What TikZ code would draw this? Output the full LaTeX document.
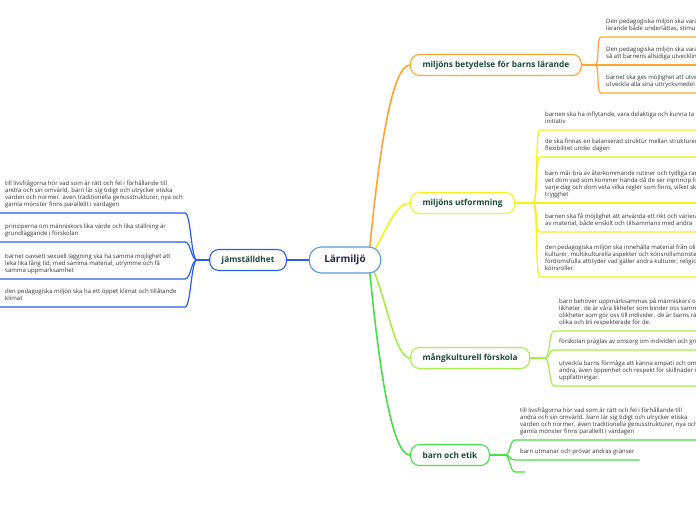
\documentclass[tikz,border=0pt]{standalone}
\usepackage{fontspec}
\setmainfont{Open Sans}
\usetikzlibrary{backgrounds,calc}
\definecolor{cblue}{HTML}{2A5EEA}
\definecolor{cblueL}{HTML}{5B9BD9}
\definecolor{corange}{HTML}{FFA42E}
\definecolor{cyellow}{HTML}{F2F21C}
\definecolor{clime}{HTML}{A6EE48}
\definecolor{cgreen}{HTML}{46E046}
\definecolor{nodetext}{HTML}{1B4A38}
\definecolor{roottext}{HTML}{1C2D4C}
\definecolor{leaftext}{HTML}{333333}
\newcommand\leafR[3]{\draw[ul,#1] (#2) .. controls ($(#2)+(5,0)$) and ($(#3.south west)+(-5,0)$) .. (#3.south west) -- (#3.south west -| edge);}
\newcommand\leafL[3]{\draw[ul,#1] (#2) .. controls ($(#2)+(-6,0)$) and ($(#3e)+(6,0)$) .. (#3e) -- (#3.south west);}
\begin{document}
\begin{tikzpicture}[x=1pt,y=-1pt,
  cat/.style={draw, fill=white, rounded corners=9pt, line width=1.1pt, minimum height=21pt, inner xsep=12pt, inner ysep=0pt, font=\fontsize{8.3}{9}\selectfont\bfseries, text=nodetext},
  leaf/.style={anchor=south west, inner xsep=5pt, inner ysep=4pt, align=left, font=\fontsize{6}{7.2}\selectfont, text=leaftext},
  ul/.style={line width=1.2pt},
  br/.style={line width=1.6pt}]
\useasboundingbox (0,0) rectangle (696,520);
\clip (0,0) rectangle (696,520);

\node[cat, draw=cblueL, font=\fontsize{10}{11}\selectfont\bfseries, text=roottext, minimum height=26pt, inner xsep=15pt, rounded corners=12pt] (root) at (345,260) {Lärmiljö};
\node[cat, draw=cblue, anchor=east] (jam) at (287,260) {jämställdhet};
\node[cat, draw=corange, anchor=west] (bet) at (410,65) {miljöns betydelse för barns lärande};
\node[cat, draw=cyellow, anchor=west] (utf) at (410,203) {miljöns utformning};
\node[cat, draw=clime, anchor=west] (mang) at (410,358) {mångkulturell förskola};
\node[cat, draw=cgreen, anchor=west] (etik) at (410,455) {barn och etik};

\coordinate (edge) at (696,0);
\coordinate (jJam) at (197,260);
\coordinate (jBet) at (595,65);
\coordinate (jUtf) at (533,203);
\coordinate (jMang) at (545,358);
\coordinate (jEtik) at (505,455);

% jämställdhet leaves
\node[leaf] (q1) at (0,213) {till livsfrågorna hör vad som är rätt och fel i förhållande till\\andra och sin omvärld. barn lär sig tidigt och utrycker etiska\\värden och normer. även traditionella genusstrukturer, nya och\\gamla mönster finns parallellt i vardagen\strut};
\coordinate (q1e) at (185,213);
\node[leaf] (q2) at (0,242) {principerna om människors lika värde och lika ställning är\\grundläggande i förskolan\strut};
\coordinate (q2e) at (185,242);
\node[leaf] (q3) at (0,279) {barnet oavsett sexuell läggning ska ha samma möjlighet att\\leka lika lång tid, med samma material, utrymme och få\\samma uppmärksamhet\strut};
\coordinate (q3e) at (185,279);
\node[leaf] (q4) at (0,307) {den pedagogiska miljön ska ha ett öppet klimat och tillåtande\\klimat\strut};
\coordinate (q4e) at (185,307);

% miljöns betydelse leaves
\node[leaf] (a1) at (601,37) {Den pedagogiska miljön ska vara\\lärande både underlättas, stimulera\strut};
\node[leaf] (a2) at (601,65) {Den pedagogiska miljön ska vara\\så att barnens allsidiga utveckling\strut};
\node[leaf] (a3) at (601,93) {barnet ska ges möjlighet att utveckla\\utveckla alla sina uttrycksmedel\strut};

% miljöns utformning leaves
\node[leaf] (b1) at (540,130) {barnen ska ha inflytande, vara delaktiga och kunna ta\\initiativ\strut};
\node[leaf] (b2) at (540,157) {de ska finnas en balanserad struktur mellan strukturen och\\flexibilitet under dagen\strut};
\node[leaf] (b3) at (540,203) {barn mår bra av återkommande rutiner och tydliga ramar,\\vet dom vad som kommer hända då de ser inprincip likadant\\varje dag och dom veta vilka regler som finns, vilket skapar\\trygghet\strut};
\node[leaf] (b4) at (540,232) {barnen ska få möjlighet att använda ett rikt och varierat\\av material, både enskilt och tillsammans med andra\strut};
\node[leaf] (b5) at (540,277) {den pedagogiska miljön ska innehålla material från olika\\kulturer, multikulturella aspekter och könsrollsmönster\\fördomsfulla attityder vad gäller andra kulturer, religioner\\könsroller.\strut};

% mångkulturell leaves
\node[leaf] (c1) at (554,331) {barn behöver uppmärksammas på människors olik-\\likheter. de är våra likheter som binder oss samman\\olikheter som gör oss till individer. de är barns rätt\\olika och bli respekterade för de.\strut};
\node[leaf] (c2) at (554,350) {förskolan präglas av omsorg om individen och gruppen\strut};
\node[leaf] (c3) at (554,386) {utveckla barns förmåga att känna empati och omtanke\\andra, även öppenhet och respekt för skillnader i\\uppfattningar.\strut};

% barn och etik leaves
\node[leaf] (e1) at (515,440) {till livsfrågorna hör vad som är rätt och fel i förhållande till\\andra och sin omvärld. barn lär sig tidigt och utrycker etiska\\värden och normer. även traditionella genusstrukturer, nya och\\gamla mönster finns parallellt i vardagen\strut};
\node[leaf, minimum width=112pt] (e2) at (515,460) {barn utmanar och prövar andras gränser\strut};
\node[leaf, minimum width=10pt] (e3) at (515,472) {};

\begin{pgfonlayer}{background}
\fill[white] (0,0) rectangle (696,520);
% trunk connectors
\draw[br,cblue] (root.center) -- (jam.center) -- (jJam);
\draw[br,corange] ($(root.center)+(24,-4)$) .. controls ($(root.center)+(34,-110)$) and ($(bet.west)+(-18,0)$) .. (bet.west);
\draw[br,cyellow] ($(root.center)+(26,-4)$) .. controls ($(root.center)+(42,-30)$) and ($(utf.west)+(-15,0)$) .. (utf.west);
\draw[br,clime] ($(root.center)+(26,4)$) .. controls ($(root.center)+(42,40)$) and ($(mang.west)+(-15,0)$) .. (mang.west);
\draw[br,cgreen] ($(root.center)+(24,4)$) .. controls ($(root.center)+(34,110)$) and ($(etik.west)+(-18,0)$) .. (etik.west);
\draw[br,corange] (bet.center) -- (jBet);
\draw[br,cyellow] (utf.center) -- (jUtf);
\draw[br,clime] (mang.center) -- (jMang);
\draw[br,cgreen] (etik.center) -- (jEtik);
% leaves
\leafL{cblue}{jJam}{q1}
\leafL{cblue}{jJam}{q2}
\leafL{cblue}{jJam}{q3}
\leafL{cblue}{jJam}{q4}
\leafR{corange}{jBet}{a1}
\leafR{corange}{jBet}{a2}
\leafR{corange}{jBet}{a3}
\leafR{cyellow}{jUtf}{b1}
\leafR{cyellow}{jUtf}{b2}
\leafR{cyellow}{jUtf}{b3}
\leafR{cyellow}{jUtf}{b4}
\leafR{cyellow}{jUtf}{b5}
\leafR{clime}{jMang}{c1}
\leafR{clime}{jMang}{c2}
\leafR{clime}{jMang}{c3}
\leafR{cgreen}{jEtik}{e1}
\draw[ul,cgreen] (jEtik) .. controls ($(jEtik)+(5,0)$) and ($(e2.south west)+(-5,0)$) .. (e2.south west) -- (e2.south east);
\draw[ul,cgreen] (jEtik) .. controls ($(jEtik)+(5,0)$) and ($(e3.south west)+(-5,0)$) .. (e3.south west) -- (e3.south east);
\end{pgfonlayer}
\end{tikzpicture}
\end{document}
